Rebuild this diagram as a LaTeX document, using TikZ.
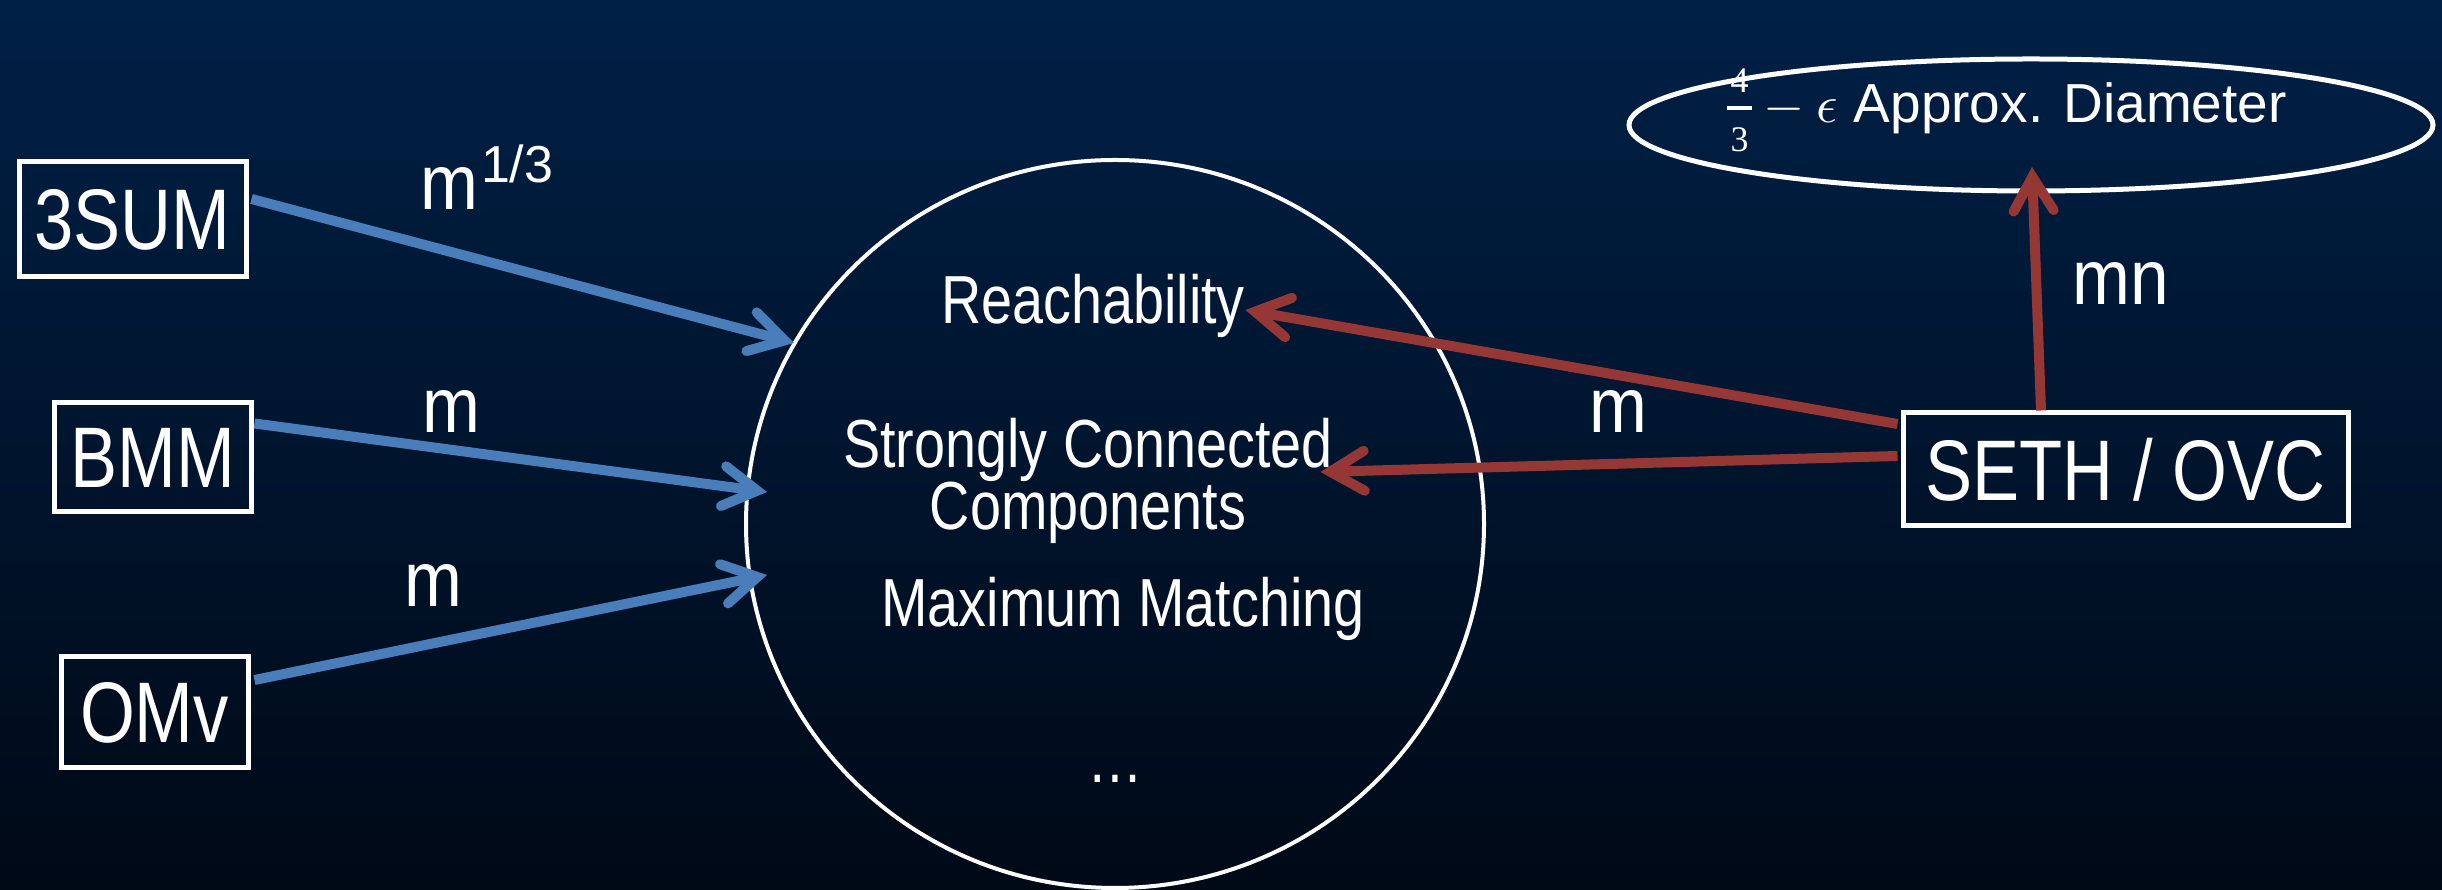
\documentclass[tikz,border=0pt]{standalone}
\usepackage{fontspec}
\setmainfont{Liberation Sans}
\newfontfamily\narrowsans[FakeStretch=0.82]{Liberation Sans}
\newfontfamily\costsans[FakeStretch=0.89]{Liberation Sans}
\newfontfamily\fracfont{Liberation Serif}
\usepackage{graphicx}
\usetikzlibrary{arrows.meta,shapes.geometric,calc}

\definecolor{bgtop}{RGB}{0,32,70}
\definecolor{bgbot}{RGB}{0,9,22}
\definecolor{linkblue}{RGB}{74,126,187}
\definecolor{linkred}{RGB}{148,55,53}

% stacked 4 over 3, built by hand so the digits keep their size
\newcommand{\fourthirds}{\raisebox{-29pt}{\vbox{\offinterlineskip
  \halign{\hfil##\hfil\cr
    \fracfont\fontsize{36}{36}\selectfont 4\cr
    \noalign{\kern14pt}
    \vrule width 25pt height 4pt depth 0pt\cr
    \noalign{\kern18pt}
    \fracfont\fontsize{36}{36}\selectfont 3\cr}}}}
% the 4/3 - epsilon factor
\newcommand{\approxfactor}{%
  \fourthirds\scalebox{5.3}{\fontsize{10}{12}\selectfont$\mathord{}-\epsilon$}}

\begin{document}
\begin{tikzpicture}[x=1pt,y=1pt,
  every node/.style={text=white},
  problem/.style={draw=white, line width=5pt, inner sep=0pt,
    font=\narrowsans\fontsize{86}{96}\selectfont},
  cost/.style={anchor=base, inner sep=0pt, font=\costsans\fontsize{78}{90}\selectfont},
  member/.style={align=center, font=\narrowsans\fontsize{68}{62}\selectfont},
  linkbase/.style={line width=10pt,
    -{Straight Barb[length=34pt,width=40pt,line cap=round,line join=miter]}},
  bluelink/.style={linkbase, draw=linkblue},
  redlink/.style={linkbase, draw=linkred}
]
% backdrop
\shade[top color=bgtop, bottom color=bgbot] (0,0) rectangle (2442,890);
\useasboundingbox (0,0) rectangle (2442,890);

% source problems
\node[problem, minimum width=227pt, minimum height=115pt] (sum) at (132.5,670.5) {3SUM};
\node[problem, minimum width=197pt, minimum height=109pt] (bmm) at (152.5,432.5) {BMM};
\node[problem, minimum width=187pt, minimum height=111pt] (omv) at (154.5,177.5) {OMv};
\node[problem, minimum width=445pt, minimum height=113pt] (seth) at (2125.5,420.5) {SETH / OVC};

% the pool of dynamic problems
\node[draw=white, line width=4pt, ellipse, minimum width=738pt, minimum height=728pt] (pool) at (1115,366) {};
\node[member] (reach) at (1093,584) {Reachability};
\node[member] (scc) at (1088,409) {Strongly Connected\\Components};
\node[member] (mm) at (1123,281) {Maximum Matching};
\node[member] (etc) at (1115,111) {…};

% approximate diameter
\node[draw=white, line width=5pt, ellipse, minimum width=804pt, minimum height=132pt] (diam) at (2031,765) {};
\node[anchor=base west, inner sep=0pt, font=\fontsize{55}{60}\selectfont] (diamtext) at (1727,767)
  {\approxfactor\ Approx. Diameter};

% cost labels
\node[cost, anchor=base west] (c1) at (420,680)
  {m\hspace{3pt}\raisebox{27pt}{\rmfamily\fontsize{52}{58}\selectfont 1/3}};
\node[cost] (c2) at (451,457) {m};
\node[cost] (c3) at (433,283) {m};
\node[cost] (c4) at (1618,457) {m};
\node[cost] (c5) at (2121,585) {mn};

% reductions
\draw[bluelink] ($(sum.east)+(3,20.5)$) -- ($(pool.center)+(-321,181)$);
\draw[bluelink] ($(bmm.east)+(1,34)$) -- ($(pool.center)+(-348,32)$);
\draw[bluelink] ($(omv.east)+(4,32.5)$) -- ($(pool.center)+(-348,-51)$);
\draw[redlink] ($(seth.west)+(-3,45.5)$) -- ($(reach.east)+(-3,-4)$);
\draw[redlink] ($(seth.west)+(-3,13.5)$) -- ($(scc.east)+(-16,9)$);
\draw[redlink] ($(seth.north)+(-84.5,0)$) -- ($(diam.center)+(1,-42)$);
\end{tikzpicture}
\end{document}
